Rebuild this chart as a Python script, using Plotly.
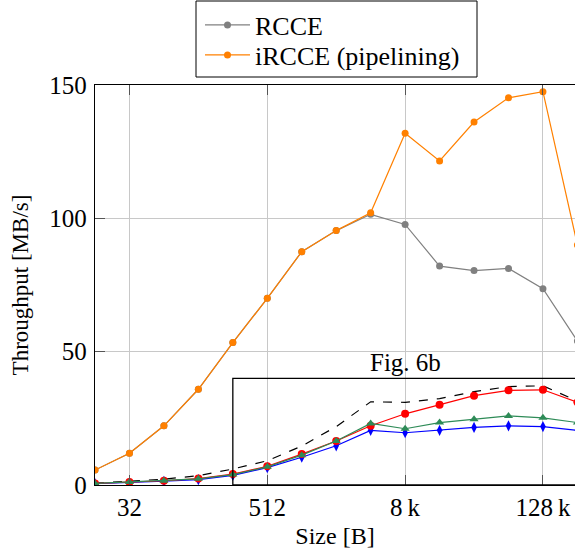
import plotly.graph_objects as go
import math

sizes = [16, 32, 64, 128, 256, 512, 1024, 2048, 4096, 8192, 16384, 32768, 65536, 131072, 262144]
rcce = [5.6, 11.9, 22.2, 35.9, 53.4, 70.0, 87.5, 95.4, 101.5, 97.7, 82.1, 80.4, 81.2, 73.6, 54.0]
ircce = [5.6, 11.9, 22.2, 35.9, 53.4, 70.0, 87.5, 95.4, 102.1, 131.9, 121.5, 136.1, 145.2, 147.5, 90.0]

# Fig. 6b overlay series
fig6b_dashed = [0.7, 1.5, 2.2, 3.5, 6.0, 9.1, 14.6, 21.9, 31.2, 31.0, 32.4, 35.0, 36.9, 37.2, 31.5]
fig6b_red = [0.6, 1.1, 1.6, 2.4, 4.1, 7.0, 11.6, 16.5, 22.2, 26.7, 30.1, 33.5, 35.5, 35.7, 31.0]
fig6b_green = [0.6, 1.1, 1.6, 2.3, 3.9, 6.8, 11.2, 16.5, 23.1, 21.1, 23.4, 24.7, 25.9, 25.2, 23.4]
fig6b_blue = [0.5, 0.9, 1.4, 2.0, 3.6, 6.5, 10.4, 14.7, 20.5, 19.6, 20.5, 21.6, 22.2, 21.9, 20.5]

x_ticks = [32, 512, 8192, 131072]
x_ticktext = ["32", "512", "8\u2009k", "128\u2009k"]
y_ticks = [0, 50, 100, 150]

FONT = "Liberation Serif"
GRID = "#c8c8c8"

fig = go.Figure()

fig.add_trace(go.Scatter(x=sizes, y=fig6b_dashed, mode="lines", showlegend=False,
                         line=dict(color="black", width=1.2, dash="dash"), hoverinfo="skip"))
fig.add_trace(go.Scatter(x=sizes, y=fig6b_blue, mode="lines+markers", showlegend=False,
                         line=dict(color="#0000ff", width=1.2),
                         marker=dict(symbol="diamond-tall", size=8, color="#0000ff")))
fig.add_trace(go.Scatter(x=sizes, y=fig6b_red, mode="lines+markers", showlegend=False,
                         line=dict(color="#ff0000", width=1.2),
                         marker=dict(symbol="circle", size=8, color="#ff0000")))
fig.add_trace(go.Scatter(x=sizes, y=fig6b_green, mode="lines+markers", showlegend=False,
                         line=dict(color="#2e8b57", width=1.2),
                         marker=dict(symbol="triangle-up", size=8, color="#2e8b57")))

fig.add_trace(go.Scatter(x=sizes, y=rcce, mode="lines+markers", name="RCCE", legend="legend",
                         line=dict(color="#808080", width=1.2),
                         marker=dict(symbol="circle", size=7, color="#808080")))
fig.add_trace(go.Scatter(x=sizes, y=ircce, mode="lines+markers", name="iRCCE (pipelining)",
                         legend="legend2",
                         line=dict(color="#ff8000", width=1.2),
                         marker=dict(symbol="circle", size=7, color="#ff8000")))

fig.add_shape(type="rect", xref="x", yref="y", x0=256, x1=2 ** 19, y0=0, y1=40,
              line=dict(color="black", width=1.3), layer="above")
fig.add_annotation(x=math.log10(8192), y=40, xref="x", yref="y", text="Fig. 6b",
                   showarrow=False, yanchor="bottom", yshift=0,
                   font=dict(family=FONT, size=25, color="black"))

# legend frame
fig.add_shape(type="rect", xref="paper", yref="paper",
              x0=(196 - 95) / 480, x1=(477 - 95) / 480,
              y0=(485 - 77) / 400, y1=(485 - 1) / 400,
              line=dict(color="black", width=1), fillcolor="rgba(0,0,0,0)", layer="below")

leg_common = dict(xanchor="left", yanchor="middle", borderwidth=0, bgcolor="rgba(0,0,0,0)",
                  font=dict(family=FONT, size=26), itemwidth=45)

fig.update_layout(
    width=575, height=553,
    margin=dict(l=95, r=0, t=85, b=68),
    paper_bgcolor="white", plot_bgcolor="white",
    font=dict(family=FONT, size=24, color="black"),
    showlegend=True,
    legend=dict(x=(200 - 95) / 480, y=(485 - 25) / 400, **leg_common),
    legend2=dict(x=(200 - 95) / 480, y=(485 - 55) / 400, **leg_common),
)
fig.update_xaxes(
    type="log", range=[math.log10(16), 17.93 * math.log10(2)],
    tickvals=x_ticks, ticktext=x_ticktext,
    showgrid=True, gridcolor=GRID, gridwidth=1,
    showline=True, linecolor="black", linewidth=1.3, mirror="ticks",
    ticks="inside", ticklen=10, tickcolor="#555555", tickwidth=1,
    zeroline=False,
    title=dict(text="Size [B]", font=dict(family=FONT, size=24), standoff=7),
    tickfont=dict(family=FONT, size=25),
)
fig.update_yaxes(
    range=[0, 150], tickvals=y_ticks,
    showgrid=True, gridcolor=GRID, gridwidth=1,
    showline=True, linecolor="black", linewidth=1.3, mirror=False,
    ticks="inside", ticklen=10, tickcolor="#555555", tickwidth=1,
    zeroline=False,
    title=dict(text="Throughput [MB/s]", font=dict(family=FONT, size=23), standoff=14),
    tickfont=dict(family=FONT, size=25),
    ticklabelstandoff=2,
)

fig.write_html("out.html", config={"displayModeBar": False},
               post_script="document.body.style.margin='0';document.body.style.overflow='hidden';")
